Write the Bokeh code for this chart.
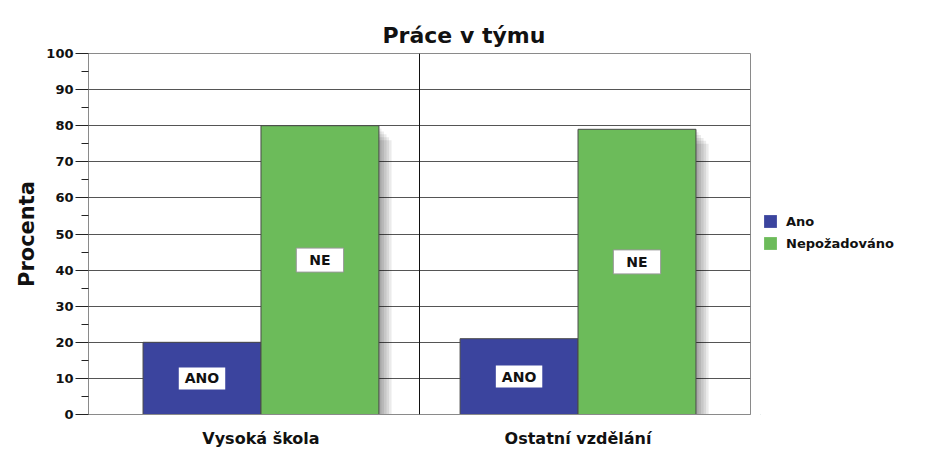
from bokeh.plotting import figure
from bokeh.layouts import row
from bokeh.models import (ColumnDataSource, FactorRange, Range1d, Legend, LegendItem,
                          Span, FixedTicker)
from bokeh.transform import dodge
from bokeh.core.properties import value
from bokeh.embed import file_html
from bokeh.resources import INLINE

# ---- data ----
chart_title = "Práce v týmu"
y_title = "Procenta"
categories = ["Vysoká škola", "Ostatní vzdělání"]
series_names = ["Ano", "Nepožadováno"]
ano_values = [20, 21]
nepozadovano_values = [80, 79]
bar_texts = ["ANO", "NE"]
y_ticks = [0, 10, 20, 30, 40, 50, 60, 70, 80, 90, 100]
colors = ["#3b449e", "#6cbb5a"]

FONT = "DejaVu Sans"
BAR_W = 0.372

p = figure(x_range=FactorRange(*categories, range_padding=0.044),
           y_range=Range1d(0, 100),
           frame_width=662, frame_height=361,
           min_border_left=88, min_border_top=53, min_border_bottom=44, min_border_right=10,
           output_backend="svg", toolbar_location=None)

p.title.text = chart_title
p.title.align = "left"
p.title.offset = 294
p.title.text_font = FONT
p.title.text_font_size = "22px"
p.title.text_font_style = "bold"
p.title.text_color = "#111111"
p.title.standoff = 12

p.outline_line_color = "#8a8a8a"
p.background_fill_color = "white"

# grid
p.xgrid.grid_line_color = None
p.ygrid.ticker = FixedTicker(ticks=y_ticks)
p.ygrid.grid_line_color = "#555555"
p.ygrid.grid_line_width = 1

# y axis
minor = [t + 5 for t in y_ticks[:-1]]
p.yaxis.ticker = FixedTicker(ticks=y_ticks, minor_ticks=minor)
p.yaxis.axis_label = y_title
p.yaxis.axis_label_text_font = FONT
p.yaxis.axis_label_text_font_size = "21px"
p.yaxis.axis_label_text_font_style = "bold"
p.yaxis.axis_label_text_color = "#111111"
p.yaxis.axis_label_standoff = 4
p.yaxis.major_label_text_font = FONT
p.yaxis.major_label_text_font_size = "13px"
p.yaxis.major_label_text_font_style = "bold"
p.yaxis.major_label_text_color = "#111111"
p.yaxis.major_label_standoff = 2
p.yaxis.axis_line_color = "#8a8a8a"
p.yaxis.major_tick_out = 13
p.yaxis.major_tick_in = 0
p.yaxis.major_tick_line_color = "#222222"
p.yaxis.minor_tick_out = 7
p.yaxis.minor_tick_in = 0
p.yaxis.minor_tick_line_color = "#222222"

# x axis
p.xaxis.axis_line_color = "#8a8a8a"
p.xaxis.major_tick_line_color = None
p.xaxis.minor_tick_line_color = None
p.xaxis.major_label_text_font = FONT
p.xaxis.major_label_text_font_size = "16px"
p.xaxis.major_label_text_font_style = "bold"
p.xaxis.major_label_text_color = "#111111"
p.xaxis.major_label_standoff = 8

# divider between categories
p.add_layout(Span(location=1.0, dimension="height", line_color="#111111", line_width=1))

all_values = [ano_values, nepozadovano_values]
offsets = [-BAR_W / 2, BAR_W / 2]
sources = []
for i, vals in enumerate(all_values):
    src = ColumnDataSource(dict(x=categories, top=vals, mid=[v / 2 for v in vals],
                                label=[bar_texts[i]] * len(vals)))
    sources.append(src)
    # soft shadow
    for k in range(1, 6):
        p.vbar(x=dodge("x", offsets[i] + 0.008 * k, range=p.x_range),
               top=dodge("top", -0.8 * k, range=p.y_range), bottom=0,
               width=BAR_W, source=src, fill_color="black", fill_alpha=0.08,
               line_color=None)

for i, src in enumerate(sources):
    p.vbar(x=dodge("x", offsets[i], range=p.x_range), top="top", bottom=0,
           width=BAR_W, source=src, fill_color=colors[i], line_color="#4a4a4a",
           line_width=1)

pads = [(6, 3), (13, 4)]
yoffs = [0, -10]
for i, src in enumerate(sources):
    p.text(x=dodge("x", offsets[i], range=p.x_range), y="mid", text="label", source=src,
           text_font=value(FONT), text_font_size="14px", text_font_style="bold",
           text_color="#111111", text_align="center", text_baseline="middle",
           y_offset=yoffs[i],
           background_fill_color="white", border_line_color="#999999" if i == 1 else None,
           padding=pads[i])

# ---- legend panel (separate small figure to the right) ----
lf = figure(width=151, height=458, x_axis_type=None, y_axis_type=None,
            x_range=Range1d(0, 1), y_range=Range1d(0, 1),
            min_border=0, output_backend="svg", toolbar_location=None)
lf.outline_line_color = None
lf.xgrid.grid_line_color = None
lf.ygrid.grid_line_color = None
items = []
for i, name in enumerate(series_names):
    # glyph kept outside the visible range: only its legend swatch is shown
    r = lf.vbar(x=[-10], top=[-10], bottom=[-11], width=0.1,
                fill_color=colors[i], line_color=None)
    items.append(LegendItem(label=name, renderers=[r]))

legend = Legend(items=items, location=(2, 163), orientation="vertical")
legend.border_line_color = None
legend.background_fill_alpha = 0
legend.label_text_font = FONT
legend.label_text_font_size = "13px"
legend.label_text_font_style = "bold"
legend.label_text_color = "#111111"
legend.glyph_width = 16
legend.glyph_height = 16
legend.label_height = 16
legend.label_standoff = 8
legend.spacing = 6
legend.padding = 0
legend.margin = 0
lf.add_layout(legend, "center")

layout = row(p, lf)
open("out.html", "w").write(file_html(layout, INLINE))
